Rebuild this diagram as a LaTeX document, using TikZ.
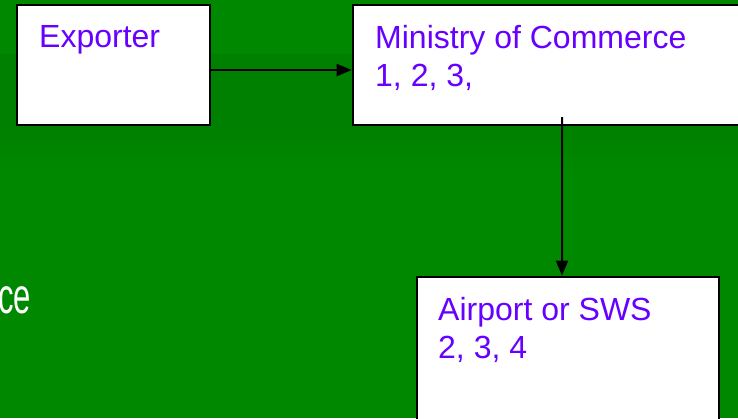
\documentclass[tikz,border=0pt]{standalone}
\usepackage{fontspec}
\setmainfont{Liberation Sans}
\usetikzlibrary{arrows.meta}
\definecolor{slidegreen}{RGB}{0,137,0}
\definecolor{bandgreen}{RGB}{0,128,0}
\definecolor{labelviolet}{RGB}{102,0,255}
\tikzset{
  x=1bp, y=-1bp,
  box/.style={draw=black, line width=2.6bp, fill=white, inner sep=0pt},
  boxtext/.style={anchor=north west, inner sep=0pt, text=labelviolet,
    font=\fontsize{32bp}{38bp}\selectfont, align=left},
  flow/.style={line width=2bp, -{Triangle[length=15bp,width=12bp]}}
}
\begin{document}
\begin{tikzpicture}
  % slide background with the darker band under the title
  \fill[slidegreen] (0,0) rectangle (738,418);
  \fill[bandgreen] (0,54) rectangle (738,125);
  \shade[top color=bandgreen, bottom color=slidegreen] (0,125) rectangle (738,175);
  \useasboundingbox (0,0) rectangle (738,418);

  % cut-off word at the left edge
  \node[anchor=base east, inner sep=0pt, text=white,
    font=\fontsize{50bp}{56bp}\selectfont] (word) at (31,313) {\scalebox{0.62}[1]{ce}};

  % boxes
  \node[box, minimum width=193bp, minimum height=120bp] (exp) at (113.5,65) {};
  \node[box, minimum width=407bp, minimum height=120bp] (min) at (556.5,65) {};
  \node[box, minimum width=302bp, minimum height=180bp] (air) at (568,367) {};

  % box labels
  \node[boxtext] (expt) at (39,25) {Exporter};
  \node[boxtext] (mint) at (375,25) {Ministry of Commerce\\1, 2, 3,};
  \node[boxtext] (airt) at (438,297) {Airport or SWS\\2, 3, 4};

  % connectors
  \draw[flow] ([yshift=-5bp]exp.east) -- ([yshift=-5bp]min.west);
  \coordinate (mtap) at (562,117);
  \draw[flow] (mtap) -- ([xshift=-6bp]air.north);
\end{tikzpicture}
\end{document}
